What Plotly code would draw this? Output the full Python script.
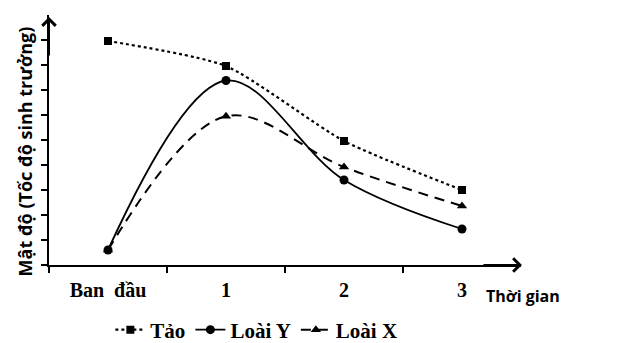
import plotly.graph_objects as go

categories = ["Ban\u00a0\u00a0đầu", "1", "2", "3"]
x_pos = [0, 1, 2, 3]
tao = [8.96, 7.96, 4.96, 3.0]
loai_y = [0.6, 7.38, 3.4, 1.44]
loai_x = [0.6, 5.95, 3.92, 2.36]

fig = go.Figure()
fig.add_trace(go.Scatter(
    x=x_pos, y=tao, name="Tảo", mode="lines+markers",
    line=dict(color="black", width=2.2, dash="dot", shape="spline", smoothing=0.6),
    marker=dict(symbol="square", size=8, color="black")))
fig.add_trace(go.Scatter(
    x=x_pos, y=loai_y, name="Loài Y", mode="lines+markers",
    line=dict(color="black", width=1.8, shape="spline", smoothing=1),
    marker=dict(symbol="circle", size=9, color="black")))
fig.add_trace(go.Scatter(
    x=x_pos, y=loai_x, name="Loài X", mode="lines+markers",
    line=dict(color="black", width=2, dash="10px,7px", shape="spline", smoothing=1),
    marker=dict(symbol="triangle-up", size=9, color="black")))

serif = "Liberation Serif"
sans = "Open Sans"

fig.update_layout(
    width=642, height=343,
    margin=dict(l=49, r=121, t=15, b=78, autoexpand=False),
    paper_bgcolor="white", plot_bgcolor="white",
    showlegend=True,
    legend=dict(orientation="h", x=0.13, xanchor="left", y=-0.178, yanchor="top",
                font=dict(family=serif, size=21, color="black", weight="bold"),
                itemwidth=30, tracegroupgap=0, bgcolor="rgba(0,0,0,0)"),
    xaxis=dict(range=[-0.5, 3.5], tickvals=x_pos, ticktext=categories,
               showgrid=False, zeroline=False, showline=True, linecolor="black", linewidth=2,
               ticks="outside", ticklen=6, tickcolor="rgba(0,0,0,0)",
               tickfont=dict(family=serif, size=20, color="black", weight="bold"),
               minor=dict(tickvals=[-0.5, 0.5, 1.5, 2.5], ticks="outside", ticklen=6,
                          tickwidth=2, tickcolor="black", showgrid=False)),
    yaxis=dict(range=[0, 10], tickvals=list(range(0, 10)), showticklabels=False,
               showgrid=False, zeroline=False, showline=True, linecolor="black", linewidth=2,
               ticks="outside", ticklen=6, tickwidth=2, tickcolor="black"),
    annotations=[
        dict(x=0, y=0.992, xref="paper", yref="paper", ax=0, ay=40,
             showarrow=True, arrowhead=4, arrowsize=1.3, arrowwidth=2, arrowcolor="black", text=""),
        dict(x=1.002, y=0, xref="paper", yref="paper", ax=-40, ay=0,
             showarrow=True, arrowhead=4, arrowsize=1.3, arrowwidth=2, arrowcolor="black", text=""),
        dict(x=0.922, y=-0.124, xref="paper", yref="paper", text="Thời gian", showarrow=False,
             xanchor="left", yanchor="middle",
             font=dict(family=sans, size=16, color="black", weight="bold")),
        dict(x=-0.05, y=0.456, xref="paper", yref="paper", text="Mật độ (Tốc độ sinh trưởng)",
             showarrow=False, textangle=-90, xanchor="center", yanchor="middle",
             font=dict(family=sans, size=18, color="black", weight="bold")),
    ],
)

fig.write_html("out.html")
